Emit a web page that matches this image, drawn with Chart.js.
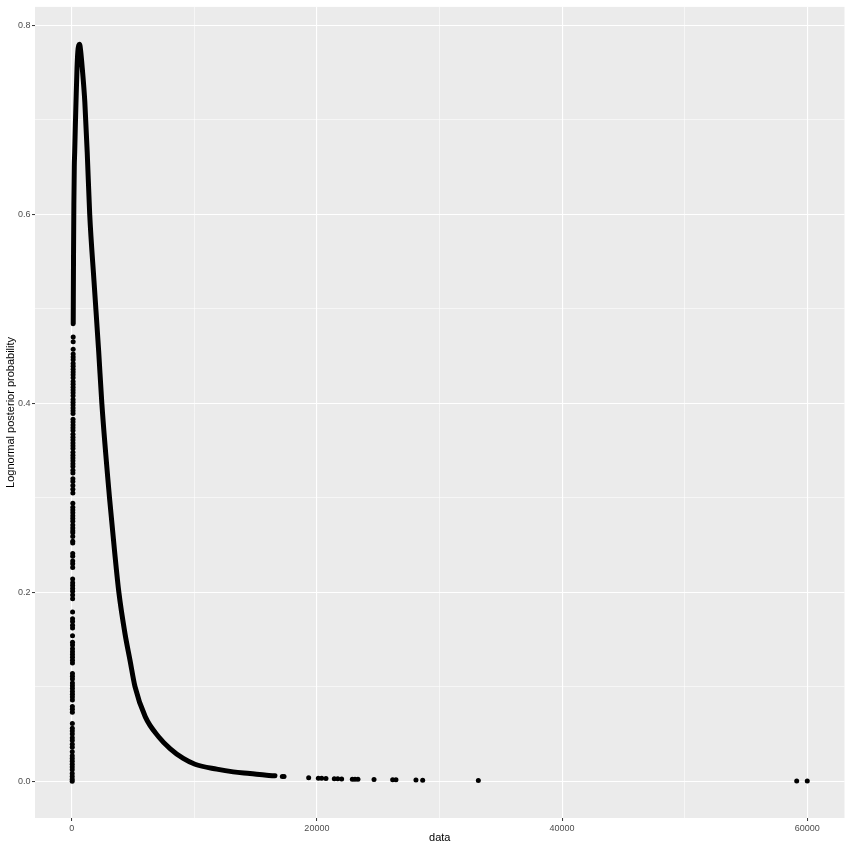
<!DOCTYPE html>
<html>
<head>
<meta charset="utf-8">
<script src="https://cdn.jsdelivr.net/npm/chart.js@4/dist/chart.umd.min.js"></script>
<style>
  body { margin: 0; background: #fff; }
  #wrap { width: 850px; height: 850px; }
</style>
</head>
<body>
<div id="wrap"><canvas id="chart" width="850" height="850"></canvas></div>
<script>
// dense part of the curve (rising edge, peak, long right tail)
const curveX = [124, 150, 175, 210, 245, 300, 351, 432, 500, 580, 640, 720, 865, 1069, 1264, 1468,
                1820, 2200, 2457, 3083, 3491, 3845, 4348, 4755, 5163, 6005, 7120, 8020, 9100,
                10060, 11830, 13180, 14540, 15900, 16580];
const curveY = [0.484, 0.560, 0.610, 0.650, 0.666, 0.695, 0.719, 0.754, 0.772, 0.779, 0.780, 0.774, 0.754, 0.719, 0.666, 0.600,
                0.529, 0.455, 0.400, 0.300, 0.244, 0.200, 0.156, 0.128, 0.100, 0.068, 0.0465, 0.0345, 0.0240,
                0.0179, 0.0127, 0.0098, 0.0081, 0.0063, 0.0056];

// scattered points in the column near x = 0
const colX = [122, 121, 120, 119, 119, 118, 117, 117, 116, 116, 115, 115, 114, 114, 113, 112, 112, 111, 111, 110,
              110, 109, 109, 108, 107, 107, 106, 105, 105, 104, 104, 103, 103, 102, 102, 101, 100, 100, 99, 99,
              98, 98, 97, 96, 95, 95, 94, 93, 91, 91, 90, 90, 89, 89, 88, 87, 87, 86, 86, 85,
              84, 84, 82, 82, 81, 80, 80, 77, 77, 76, 76, 75, 74, 74, 71, 70, 70, 69, 68, 67,
              66, 65, 65, 64, 63, 63, 62, 62, 60, 59, 59, 58, 58, 57, 57, 56, 56, 55, 54, 53,
              53, 51, 50, 49, 49, 48, 48, 47, 46, 45, 45, 44, 44, 43, 43, 42, 41, 41, 40, 40];
const colY = [0.470, 0.465, 0.457, 0.452, 0.449, 0.446, 0.442, 0.439, 0.436, 0.433, 0.430, 0.427, 0.423, 0.420, 0.417, 0.414, 0.411, 0.408, 0.404, 0.401,
              0.398, 0.395, 0.392, 0.389, 0.383, 0.380, 0.377, 0.374, 0.371, 0.367, 0.364, 0.361, 0.358, 0.355, 0.352, 0.348, 0.345, 0.342, 0.339, 0.336,
              0.333, 0.329, 0.326, 0.320, 0.317, 0.313, 0.309, 0.305, 0.294, 0.290, 0.287, 0.284, 0.281, 0.278, 0.275, 0.271, 0.268, 0.265, 0.263, 0.259,
              0.254, 0.252, 0.241, 0.238, 0.233, 0.230, 0.226, 0.214, 0.210, 0.207, 0.204, 0.201, 0.197, 0.193, 0.179, 0.172, 0.169, 0.165, 0.162, 0.154,
              0.147, 0.144, 0.140, 0.137, 0.134, 0.131, 0.128, 0.125, 0.114, 0.111, 0.108, 0.104, 0.101, 0.098, 0.095, 0.092, 0.089, 0.086, 0.079, 0.076,
              0.073, 0.061, 0.056, 0.053, 0.050, 0.046, 0.043, 0.039, 0.036, 0.031, 0.027, 0.024, 0.021, 0.018, 0.015, 0.012, 0.008, 0.005, 0.002, 0.000];

// isolated points far out on the tail
const tailX = [17180, 17320, 19330, 20120, 20390, 20740, 21420, 21700, 22020, 22890, 23110, 23350, 24660,
               26180, 26450, 28080, 28630, 33170, 59140, 60000];
const tailY = [0.0050, 0.0049, 0.0035, 0.0031, 0.0030, 0.0028, 0.0026, 0.0025, 0.0024, 0.0021, 0.0020, 0.0020, 0.0017,
               0.0014, 0.0014, 0.0011, 0.0010, 0.0007, 0.0001, 0.0001];

// major ticks carry labels, minor ones only a thin grid line
const xTicks = [0, 20000, 40000, 60000];
const xMinor = [10000, 30000, 50000];
const yTicks = [0.0, 0.2, 0.4, 0.6, 0.8];
const yMinor = [0.1, 0.3, 0.5, 0.7];

const toPts = (xs, ys) => xs.map((x, i) => ({ x: x, y: ys[i] }));

const panelBg = {
  id: 'panelBg',
  beforeDraw(chart) {
    const a = chart.chartArea;
    const c = chart.ctx;
    c.save();
    c.fillStyle = '#EBEBEB';
    c.fillRect(a.left, a.top, a.right - a.left, a.bottom - a.top);
    c.restore();
  }
};

const font = "'Liberation Sans', Arial, sans-serif";
const isMajorX = v => xTicks.includes(v);
const isMajorY = v => yTicks.some(t => Math.abs(t - v) < 1e-9);

new Chart(document.getElementById('chart'), {
  type: 'scatter',
  data: {
    datasets: [
      {
        data: toPts(curveX, curveY),
        showLine: true,
        borderColor: '#000',
        borderWidth: 5,
        borderCapStyle: 'round',
        borderJoinStyle: 'round',
        cubicInterpolationMode: 'monotone',
        pointRadius: 0
      },
      {
        data: toPts(colX, colY),
        backgroundColor: '#000',
        borderWidth: 0,
        pointRadius: 2.5
      },
      {
        data: toPts(tailX, tailY),
        backgroundColor: '#000',
        borderWidth: 0,
        pointRadius: 2.5
      }
    ]
  },
  options: {
    responsive: false,
    animation: false,
    layout: { padding: { top: 5, right: 5.5, left: 0, bottom: 0 } },
    plugins: { legend: { display: false }, tooltip: { enabled: false } },
    scales: {
      x: {
        type: 'linear',
        min: -2994,
        max: 63038,
        afterFit: s => { s.height = 32; },
        afterBuildTicks: s => {
          s.ticks = xTicks.concat(xMinor).sort((a, b) => a - b).map(v => ({ value: v }));
        },
        border: { display: false },
        grid: {
          color: '#FFFFFF',
          lineWidth: c => isMajorX(c.tick.value) ? 1.1 : 0.55,
          tickLength: 3,
          tickColor: c => isMajorX(c.tick.value) ? '#333333' : 'rgba(0,0,0,0)',
          tickWidth: 1
        },
        ticks: {
          maxRotation: 0,
          autoSkip: false,
          padding: 2,
          color: '#4D4D4D',
          font: { family: font, size: 9 },
          callback: v => isMajorX(v) ? String(v) : ''
        },
        title: {
          display: true,
          text: 'data',
          color: '#000',
          font: { family: font, size: 11 },
          padding: { top: 0, bottom: 5.5 }
        }
      },
      y: {
        type: 'linear',
        min: -0.039,
        max: 0.8194,
        afterFit: s => { s.width = 35; },
        afterBuildTicks: s => {
          s.ticks = yTicks.concat(yMinor).sort((a, b) => a - b).map(v => ({ value: v }));
        },
        border: { display: false },
        grid: {
          color: '#FFFFFF',
          lineWidth: c => isMajorY(c.tick.value) ? 1.1 : 0.55,
          tickLength: 3,
          tickColor: c => isMajorY(c.tick.value) ? '#333333' : 'rgba(0,0,0,0)',
          tickWidth: 1
        },
        ticks: {
          autoSkip: false,
          padding: 1.5,
          color: '#4D4D4D',
          font: { family: font, size: 9 },
          callback: v => isMajorY(v) ? v.toFixed(1) : ''
        },
        title: {
          display: true,
          text: 'Lognormal posterior probability',
          color: '#000',
          font: { family: font, size: 11 },
          padding: { top: 4, bottom: 0 }
        }
      }
    }
  },
  plugins: [panelBg]
});
</script>
</body>
</html>
